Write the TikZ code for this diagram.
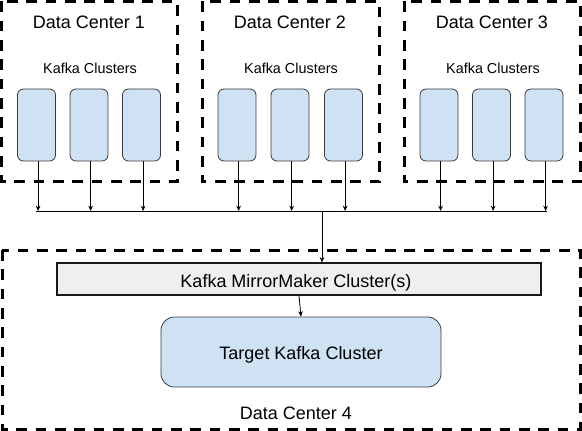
\documentclass[tikz,border=0pt]{standalone}
\usepackage{fontspec}
\setmainfont{Liberation Sans}
\usetikzlibrary{arrows.meta}
\definecolor{kblue}{HTML}{CFE2F3}
\definecolor{kgrey}{HTML}{EFEFEF}
\definecolor{kedge}{HTML}{3A3A3A}
\begin{document}
\begin{tikzpicture}[x=0.75pt,y=-0.75pt,
  dcbox/.style={draw=black,line width=2.25pt,dash pattern=on 8pt off 6.5pt},
  kbox/.style={draw=kedge,fill=kblue,rounded corners=4.5pt,line width=0.6pt,minimum width=28.5pt,minimum height=54pt,inner sep=0pt},
  mmbox/.style={draw=black!90,fill=kgrey,line width=0.9pt,minimum width=363pt,minimum height=24pt,inner sep=0pt},
  tbox/.style={draw=kedge,fill=kblue,rounded corners=10pt,line width=0.6pt,minimum width=210pt,minimum height=52.5pt,inner sep=0pt},
  bigtxt/.style={font=\fontsize{13.5pt}{16pt}\selectfont,anchor=base,inner sep=0pt},
  smtxt/.style={font=\fontsize{10.8pt}{13pt}\selectfont,anchor=base,inner sep=0pt},
  conn/.style={line width=0.6pt,-{Stealth[length=4pt,width=3.5pt]}},
  bus/.style={line width=0.6pt}]
\useasboundingbox (0,0) rectangle (582,431);
% data center frames
\draw[dcbox] (1.5,1.5) rectangle (177,182);
\draw[dcbox] (202,1.5) rectangle (379,182);
\draw[dcbox] (404,1.5) rectangle (580.5,182);
\draw[dcbox] (2,250) rectangle (580.5,429);
% labels
\node[bigtxt] (l1) at (89,28.5) {Data Center 1};
\node[bigtxt] (l2) at (290,28.5) {Data Center 2};
\node[bigtxt] (l3) at (492,28.5) {Data Center 3};
\node[smtxt] (c1) at (90,73.5) {Kafka Clusters};
\node[smtxt] (c2) at (291,73.5) {Kafka Clusters};
\node[smtxt] (c3) at (493,73.5) {Kafka Clusters};
% kafka cluster boxes
\node[kbox] (k11) at (36.5,125) {};
\node[kbox] (k12) at (89,125) {};
\node[kbox] (k13) at (141.5,125) {};
\node[kbox] (k21) at (237,125) {};
\node[kbox] (k22) at (290,125) {};
\node[kbox] (k23) at (343.5,125) {};
\node[kbox] (k31) at (439,125) {};
\node[kbox] (k32) at (491.5,125) {};
\node[kbox] (k33) at (544,125) {};
% bus
\coordinate (busL) at (36,211);
\coordinate (busR) at (547,211);
\coordinate (busM) at (322,211);
\draw[bus] (busL) -- (busR);
\foreach \k in {k11,k12,k13,k21,k22,k23,k31,k32,k33}{
  \draw[conn] ([xshift=1.2pt]\k.south) -- ([xshift=1.2pt]\k.south |- busL);
}
% data center 4
\node[mmbox] (mm) at (299,279) {};
\node[bigtxt] (mmt) at (296,287) {Kafka MirrorMaker Cluster(s)};
\node[tbox] (tg) at (301,352) {};
\node[bigtxt] (tgt) at (301,359) {Target Kafka Cluster};
\node[bigtxt] (l4) at (296,419) {Data Center 4};
\draw[conn] (busM) -- (busM |- mm.north);
\draw[conn] (mm.south) -- (tg.north);
\end{tikzpicture}
\end{document}
